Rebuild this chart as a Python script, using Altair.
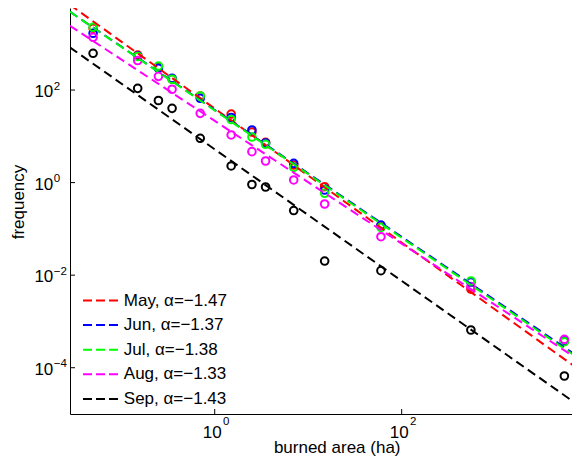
import altair as alt
import pandas as pd

FONT = "Liberation Sans, Arial, Helvetica, sans-serif"

series = ["May, α=−1.47", "Jun, α=−1.37", "Jul, α=−1.38", "Aug, α=−1.33", "Sep, α=−1.43"]
colors = ["#ff0000", "#0000ff", "#00ff00", "#ff00ff", "#000000"]

area = [0.05, 0.15, 0.25, 0.35, 0.7, 1.5, 2.5, 3.5, 7, 15, 60, 550, 5500]
freq_may = [2158, 571, 319, 173, 74.3, 30.3, 12.4, 7.43, 2.40, 0.815, 0.115, 0.0050, 3.78e-4]
freq_jun = [1683, 543, 295, 179, 66.4, 25.5, 13.7, 7.18, 2.61, 0.692, 0.121, 0.00711, 3.78e-4]
freq_jul = [2270, 531, 330, 171, 74.3, 23.1, 9.66, 6.73, 2.14, 0.587, 0.108, 0.00748, 3.65e-4]
freq_aug = [1380, 435, 198, 104, 31.4, 10.7, 4.66, 2.93, 1.14, 0.345, 0.0678, 0.00564, 4.11e-4]
freq_sep = [622, 109, 59.4, 40.3, 9.06, 2.29, 0.910, 0.804, 0.249, 0.0202, 0.0125, 6.53e-4, 6.62e-5]

# fitted power-law lines, read at the two ends of the plotted range
fit_x = [0.0282, 8128]
fit_may = [6982, 8.71e-5]
fit_jun = [4932, 1.62e-4]
fit_jul = [4932, 1.51e-4]
fit_aug = [2455, 1.41e-4]
fit_sep = [837.5, 1.45e-5]

x_ticks = [1, 100]
x_tick_exp = ["0", "2"]
y_ticks = [100, 1, 0.01, 0.0001]
y_tick_exp = ["2", "0", "−2", "−4"]

W, H = 502, 406

all_freq = [freq_may, freq_jun, freq_jul, freq_aug, freq_sep]
all_fit = [fit_may, fit_jun, fit_jul, fit_aug, fit_sep]

pts = pd.DataFrame(
    [{"area": a, "freq": f, "series": s, "o": i}
     for i, (s, fl) in enumerate(zip(series, all_freq)) for a, f in zip(area, fl)]
)
fits = pd.DataFrame(
    [{"area": a, "freq": f, "series": s, "o": i}
     for i, (s, fl) in enumerate(zip(series, all_fit)) for a, f in zip(fit_x, fl)]
)
xt = pd.DataFrame({"v": x_ticks, "e": x_tick_exp})
yt = pd.DataFrame({"v": y_ticks, "e": y_tick_exp})

xscale = alt.Scale(type="log", domain=[10 ** -1.548, 10 ** 3.822], nice=False)
yscale = alt.Scale(type="log", domain=[1e-5, 10 ** 3.773], nice=False)

xaxis = alt.Axis(values=x_ticks, labels=False, ticks=False, grid=False,
                 domainColor="black", domainWidth=1, title="burned area (ha)",
                 titleFont=FONT, titleFontSize=17, titleFontWeight="normal", titleColor="black",
                 titleX=266.7, titleY=38.8, titleBaseline="alphabetic", titleAlign="center")
yaxis = alt.Axis(values=y_ticks, labels=False, ticks=False, grid=False,
                 domainColor="black", domainWidth=1, title="frequency",
                 titleFont=FONT, titleFontSize=17, titleFontWeight="normal", titleColor="black",
                 titleX=-52, titleY=193.5, titleAngle=270, titleBaseline="middle", titleAlign="center")

legend = alt.Legend(orient="none", legendX=22, legendY=284, title=None, direction="vertical",
                    symbolType="M-3,0H3", symbolSize=136, symbolStrokeWidth=2,
                    symbolDash=[9, 4], symbolOpacity=1,
                    labelFont=FONT, labelFontSize=17, labelColor="black", labelOffset=14.8,
                    rowPadding=6.6, padding=0)

color = alt.Color("series:N", scale=alt.Scale(domain=series, range=colors), legend=legend)

points = alt.Chart(pts).mark_point(shape="circle", filled=False, size=58, strokeWidth=2,
                                   opacity=1).encode(
    x=alt.X("area:Q", scale=xscale, axis=xaxis),
    y=alt.Y("freq:Q", scale=yscale, axis=yaxis),
    color=color,
    order="o:Q",
)

lines = alt.Chart(fits).mark_line(strokeDash=[9, 5], strokeWidth=2, clip=True).encode(
    x=alt.X("area:Q", scale=xscale),
    y=alt.Y("freq:Q", scale=yscale),
    color=color,
    detail="series:N",
)

xtick_marks = alt.Chart(xt).mark_rule(color="black", strokeWidth=1).encode(
    x=alt.X("v:Q", scale=xscale), y=alt.value(H), y2=alt.value(H - 5))
ytick_marks = alt.Chart(yt).mark_rule(color="black", strokeWidth=1).encode(
    y=alt.Y("v:Q", scale=yscale), x=alt.value(0), x2=alt.value(5))

xlab_base = alt.Chart(xt).mark_text(align="right", baseline="alphabetic", dx=7, font=FONT,
                                    fontSize=17, color="black").encode(
    x=alt.X("v:Q", scale=xscale), y=alt.value(H + 23.5), text=alt.value("10"))
xlab_exp = alt.Chart(xt).mark_text(align="left", baseline="alphabetic", dx=8.3, font=FONT,
                                   fontSize=11.5, color="black").encode(
    x=alt.X("v:Q", scale=xscale), y=alt.value(H + 10.5), text="e:N")
ylab_base = alt.Chart(yt).mark_text(align="right", baseline="alphabetic", dy=7.3, font=FONT,
                                    fontSize=17, color="black").encode(
    y=alt.Y("v:Q", scale=yscale), x=alt.value(-16.7), text=alt.value("10"))
ylab_exp = alt.Chart(yt).mark_text(align="left", baseline="alphabetic", dy=-0.5, font=FONT,
                                   fontSize=11.5, color="black").encode(
    y=alt.Y("v:Q", scale=yscale), x=alt.value(-16.3), text="e:N")

chart = alt.layer(
    points, lines, xtick_marks, ytick_marks, xlab_base, xlab_exp, ylab_base, ylab_exp
).properties(
    width=W, height=H,
    padding={"left": 62, "top": 0, "right": 0, "bottom": 42},
    autosize=alt.AutoSizeParams(type="none"),
    background="white",
).configure_view(stroke=None)

chart.save("out.html", embed_options={"renderer": "svg", "actions": False})
